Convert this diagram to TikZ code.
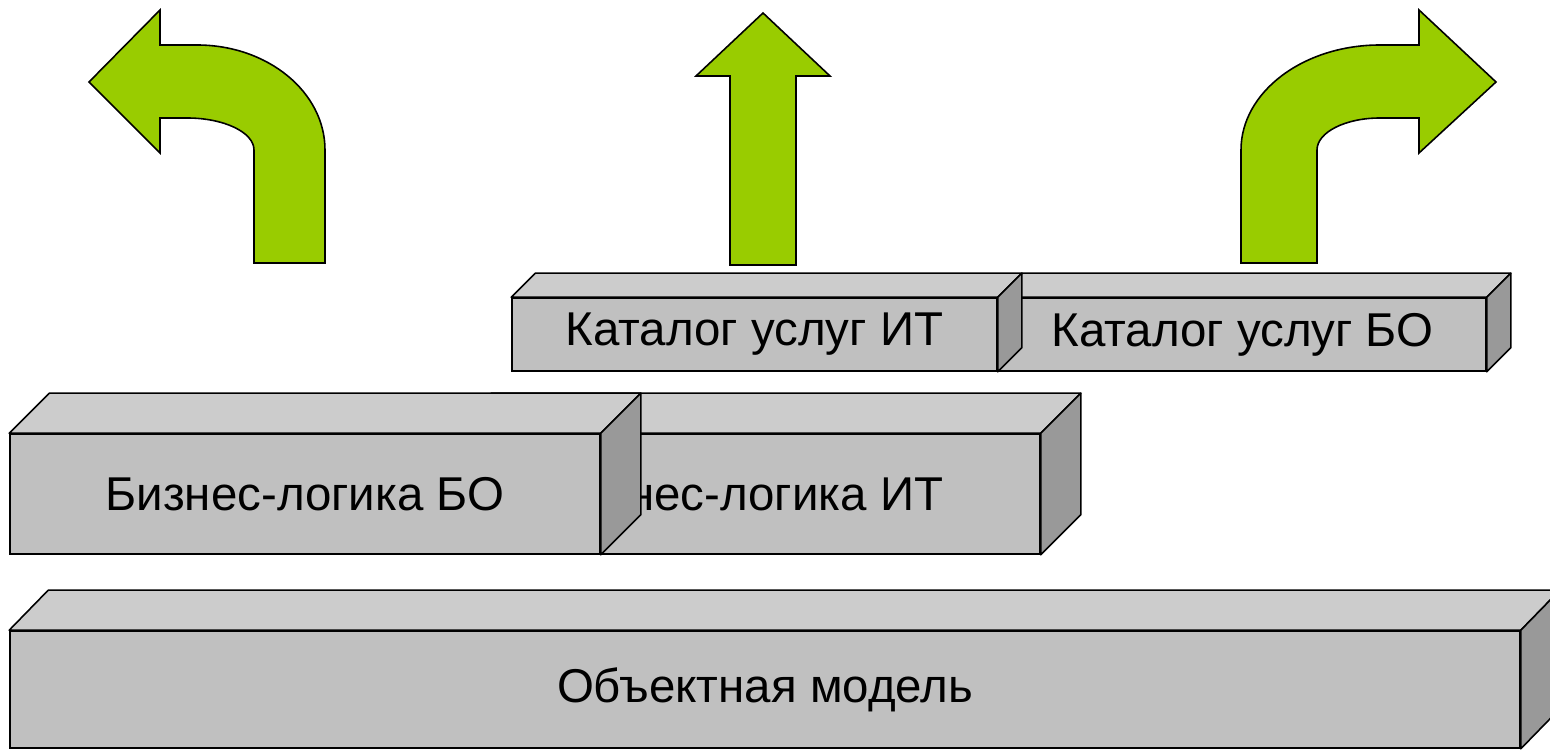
\documentclass[tikz,border=0pt]{standalone}
\usepackage{fontspec}
\setmainfont{Liberation Sans}
\usepackage{tikz}
\usetikzlibrary{positioning,calc}
\definecolor{frontgray}{RGB}{192,192,192}
\definecolor{topgray}{RGB}{204,204,204}
\definecolor{sidegray}{RGB}{153,153,153}
\definecolor{arrowgreen}{RGB}{153,204,0}

\begin{document}
\begin{tikzpicture}
    \tikzstyle{front} = [rectangle, draw=black, fill=frontgray, line width=0.9pt, inner sep=0pt, text centered, font=\fontsize{27}{32}\selectfont]
    \tikzstyle{topface} = [draw=black, fill=topgray, line width=0.9pt, line join=round]
    \tikzstyle{sideface} = [draw=black, fill=sidegray, line width=0.9pt, line join=round]
    \tikzstyle{bigarrow} = [draw=black, fill=arrowgreen, line width=0.9pt, line join=miter]

    \clip (0,0) rectangle (31,14.98);
    \useasboundingbox (0,0) rectangle (31,14.98);

    % Object model layer
    \node [front, minimum width=30.2cm, minimum height=2.34cm] (object_model) at (15.3,1.19) {Объектная модель};
    \draw [topface] (object_model.north west) -- ++(0.78,0.8) -- ($(object_model.north east)+(0.78,0.8)$) -- (object_model.north east) -- cycle;
    \draw [sideface] (object_model.north east) -- ++(0.78,0.8) -- ($(object_model.south east)+(0.78,0.8)$) -- (object_model.south east) -- cycle;

    % Business logic layer
    \node [front, minimum width=11.76cm, minimum height=2.4cm] (logic_it) at (14.92,5.1) {Бизнес-логика ИТ};
    \draw [topface] (logic_it.north west) -- ++(0.8,0.8) -- ($(logic_it.north east)+(0.8,0.8)$) -- (logic_it.north east) -- cycle;
    \draw [sideface] (logic_it.north east) -- ++(0.8,0.8) -- ($(logic_it.south east)+(0.8,0.8)$) -- (logic_it.south east) -- cycle;

    \node [front, minimum width=11.8cm, minimum height=2.4cm] (logic_bo) at (6.1,5.1) {Бизнес-логика БО};
    \draw [topface] (logic_bo.north west) -- ++(0.8,0.8) -- ($(logic_bo.north east)+(0.8,0.8)$) -- (logic_bo.north east) -- cycle;
    \draw [sideface] (logic_bo.north east) -- ++(0.8,0.8) -- ($(logic_bo.south east)+(0.8,0.8)$) -- (logic_bo.south east) -- cycle;

    % Service catalog layer
    \node [front, minimum width=9.74cm, minimum height=1.46cm] (catalog_bo) at (24.85,8.29) {Каталог услуг БО};
    \draw [topface] (catalog_bo.north west) -- ++(0.48,0.48) -- ($(catalog_bo.north east)+(0.48,0.48)$) -- (catalog_bo.north east) -- cycle;
    \draw [sideface] (catalog_bo.north east) -- ++(0.48,0.48) -- ($(catalog_bo.south east)+(0.48,0.48)$) -- (catalog_bo.south east) -- cycle;

    \node [front, minimum width=9.7cm, minimum height=1.46cm] (catalog_it) at (15.09,8.29) {Каталог услуг ИТ};
    \draw [topface] (catalog_it.north west) -- ++(0.48,0.48) -- ($(catalog_it.north east)+(0.48,0.48)$) -- (catalog_it.north east) -- cycle;
    \draw [sideface] (catalog_it.north east) -- ++(0.48,0.48) -- ($(catalog_it.south east)+(0.48,0.48)$) -- (catalog_it.south east) -- cycle;

    % Green arrows
    \draw [bigarrow] (1.78,13.34) -- (3.2,14.78) -- (3.2,14.08) -- (3.94,14.08)
        arc [start angle=90, end angle=0, x radius=2.56cm, y radius=2.1cm]
        -- (6.5,9.72) -- (5.08,9.72) -- (5.08,11.98)
        arc [start angle=0, end angle=90, x radius=1.34cm, y radius=0.64cm]
        -- (3.2,12.62) -- (3.2,11.92) -- cycle;
    \draw [bigarrow] (14.6,9.68) -- (14.6,13.46) -- (13.92,13.46) -- (15.26,14.72) -- (16.6,13.46) -- (15.92,13.46) -- (15.92,9.68) -- cycle;
    \draw [bigarrow] (24.82,9.72) -- (24.82,11.98)
        arc [start angle=180, end angle=90, x radius=2.78cm, y radius=2.1cm]
        -- (28.38,14.08) -- (28.38,14.78) -- (29.92,13.34) -- (28.38,11.92) -- (28.38,12.62) -- (27.6,12.62)
        arc [start angle=90, end angle=180, x radius=1.26cm, y radius=0.64cm]
        -- (26.34,9.72) -- cycle;
\end{tikzpicture}
\end{document}
